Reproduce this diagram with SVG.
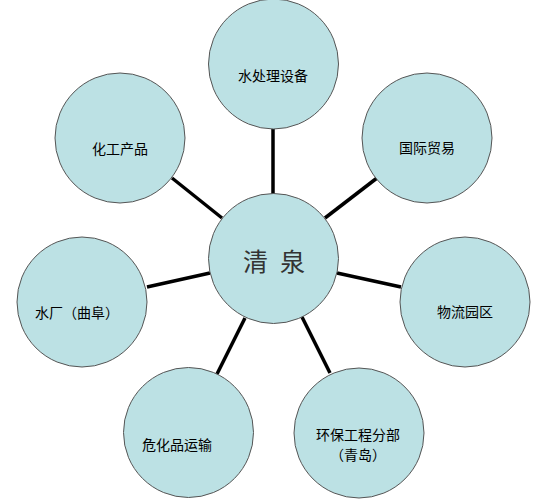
<svg xmlns="http://www.w3.org/2000/svg" width="543" height="499" viewBox="0 0 543 499">
<style>
.n{fill:#BCE1E4;stroke:#555;stroke-width:1}
.t{font-family:"Noto Sans CJK SC","Liberation Sans",sans-serif;font-size:14px;fill:#000;text-anchor:middle}
.c{stroke:#000;stroke-width:3.5;fill:none}
</style>
<rect width="543" height="499" fill="#fff"/>
<g id="connectors">
<line class="c" x1="273" y1="129" x2="273" y2="194"/>
<line class="c" x1="172" y1="178" x2="222" y2="218"/>
<line class="c" x1="377" y1="178" x2="325" y2="218"/>
<line class="c" x1="337" y1="273" x2="401" y2="287"/>
<line class="c" x1="147" y1="287" x2="210" y2="273"/>
<line class="c" x1="245" y1="318" x2="217" y2="374"/>
<line class="c" x1="302" y1="317" x2="330" y2="373"/>
</g>
<g id="center">
<circle class="n" cx="273.5" cy="258.5" r="65"/>
<text x="274" y="271" style="font-family:'Noto Sans CJK SC','Liberation Sans',sans-serif;font-size:25px;fill:#333;text-anchor:middle;letter-spacing:12px" dx="6">清泉</text>
</g>
<g id="n1">
<circle class="n" cx="273.5" cy="64" r="65"/>
<text class="t" x="273" y="81">水处理设备</text>
</g>
<g id="n2">
<circle class="n" cx="427" cy="138" r="65"/>
<text class="t" x="427" y="153">国际贸易</text>
</g>
<g id="n3">
<circle class="n" cx="465" cy="302" r="65"/>
<text class="t" x="465" y="317">物流园区</text>
</g>
<g id="n4">
<circle class="n" cx="359" cy="433" r="65"/>
<text class="t" x="358" y="440">环保工程分部</text>
<text class="t" x="358" y="460">（青岛）</text>
</g>
<g id="n5">
<circle class="n" cx="188.5" cy="432.5" r="65"/>
<text class="t" x="177" y="450">危化品运输</text>
</g>
<g id="n6">
<circle class="n" cx="82" cy="302" r="65"/>
<text class="t" x="77" y="318">水厂（曲阜）</text>
</g>
<g id="n7">
<circle class="n" cx="120" cy="138" r="65"/>
<text class="t" x="120" y="154">化工产品</text>
</g>
</svg>
